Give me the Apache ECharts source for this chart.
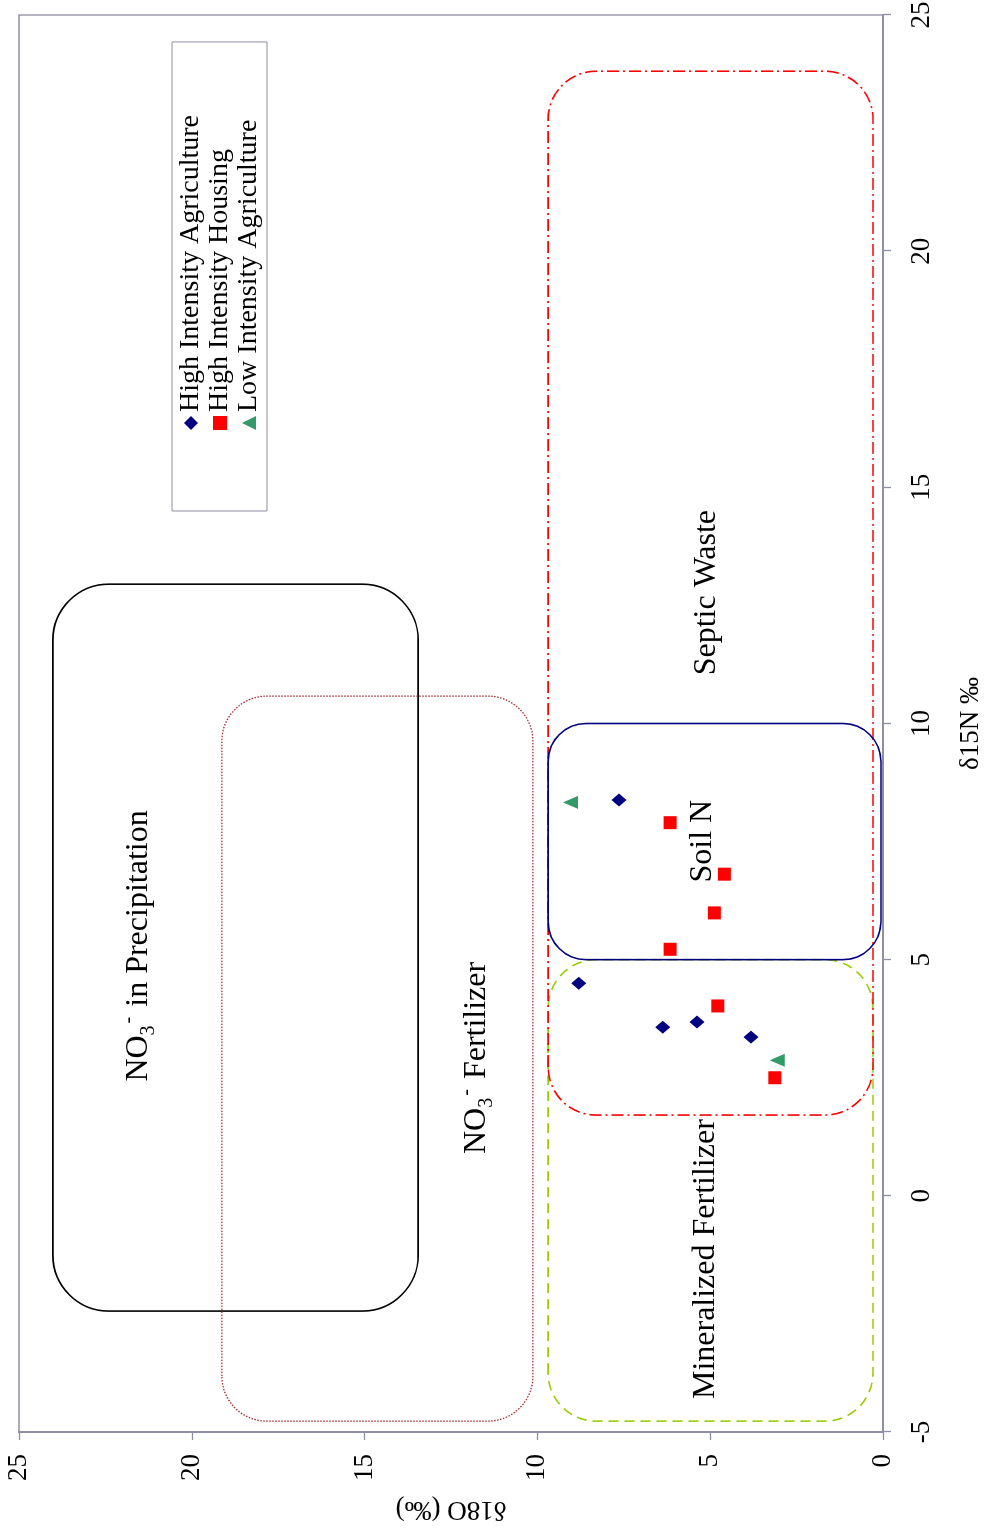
<!DOCTYPE html>
<html>
<head>
<meta charset="utf-8">
<title>Nitrate isotope sources</title>
<script src="https://cdn.jsdelivr.net/npm/echarts@6/dist/echarts.min.js"></script>
<style>
  html, body { margin: 0; padding: 0; background: #ffffff; overflow: hidden; width: 988px; height: 1533px; }
  /* landscape chart turned a quarter turn counter-clockwise to fill the portrait page */
  #chart {
    position: absolute; left: 0; top: 0;
    width: 1533px; height: 988px;
    transform-origin: 0 0;
    transform: translate(0, 1533px) rotate(-90deg);
  }
</style>
</head>
<body>
<div id="chart"></div>
<script>
// ---- sample groups: delta 15N (x) and delta 18O (y), per mil ----
const seriesNames = ['High Intensity Agriculture', 'High Intensity Housing', 'Low Intensity Agriculture'];

const highAgriN15 = [8.38, 4.50, 3.57, 3.68, 3.36];
const highAgriO18 = [7.64, 8.80, 6.37, 5.38, 3.82];

const housingN15 = [7.90, 6.81, 5.99, 5.22, 4.02, 2.50];
const housingO18 = [6.16, 4.59, 4.88, 6.16, 4.78, 3.13];

const lowAgriN15 = [8.33, 2.87];
const lowAgriO18 = [9.04, 3.06];

// ---- source fields (ranges in per mil) ----
const regionKeys   = ['precipitation', 'fertilizer', 'mineralized', 'septic', 'soil'];
const regionN15Min = [-2.44, -4.77, -4.77, 1.71, 5.0];
const regionN15Max = [12.95, 10.58, 5.0, 23.81, 10.0];
const regionO18Min = [13.45, 10.13, 0.29, 0.29, 0.06];
const regionO18Max = [24.02, 19.13, 9.69, 9.69, 9.69];

// ---- source field captions ----
const captionTexts = [
  'NO{sub|3}{sup|-} in Precipitation',
  'NO{sub|3}{sup|-} Fertilizer',
  'Septic Waste',
  'Soil N',
  'Mineralized Fertilizer'
];
const captionN15 = [5.29, 2.92, 12.77, 7.51, -1.34];
const captionO18 = [21.53, 11.75, 5.11, 5.22, 5.12];

// ---- axis ticks ----
const n15Ticks = [-5, 0, 5, 10, 15, 20, 25];
const o18Ticks = [0, 5, 10, 15, 20, 25];

// outline styles for each source field, in regionKeys order
const regionStyle = {
  precipitation: { stroke: '#000000', dash: null,          width: 1.6, r: 56 },
  fertilizer:    { stroke: '#a3282a', dash: [1.5, 1.5],    width: 1.3, r: 45 },
  mineralized:   { stroke: '#99cc00', dash: [10, 6],       width: 1.6, r: 48 },
  septic:        { stroke: '#ff0000', dash: [12, 4, 2, 4], width: 1.6, r: 48 },
  soil:          { stroke: '#000080', dash: null,          width: 1.6, r: 38 }
};

const FONT = '"Liberation Serif", "Times New Roman", serif';
const AXIS_COLOR = '#8e8ea6';

const zip = (xs, ys) => xs.map((x, i) => [x, ys[i]]);

const regionData = regionKeys.map((k, i) => [regionN15Min[i], regionN15Max[i], regionO18Min[i], regionO18Max[i]]);
const captionData = captionTexts.map((t, i) => [captionN15[i], captionO18[i]]);

const chart = echarts.init(document.getElementById('chart'), null, { renderer: 'canvas' });

const option = {
  backgroundColor: '#ffffff',
  animation: false,
  textStyle: { fontFamily: FONT, color: '#000000' },
  grid: {
    left: 101, right: 15, top: 19, bottom: 105,
    show: true, borderColor: AXIS_COLOR, borderWidth: 1.3,
    containLabel: false, outerBoundsMode: 'none'
  },
  legend: {
    orient: 'vertical',
    left: 1022, top: 172,
    padding: [5, 73, 4, 81],
    itemGap: 1,
    itemWidth: 14, itemHeight: 14,
    borderColor: AXIS_COLOR, borderWidth: 1,
    backgroundColor: '#ffffff',
    textStyle: { fontFamily: FONT, fontSize: 28, color: '#000000', padding: [0, 0, 0, -1] },
    data: [
      { name: seriesNames[0], icon: 'diamond' },
      { name: seriesNames[1], icon: 'rect' },
      { name: seriesNames[2], icon: 'triangle' }
    ]
  },
  xAxis: {
    type: 'value',
    min: n15Ticks[0], max: n15Ticks[n15Ticks.length - 1], interval: 5,
    name: 'δ15N ‰',
    nameLocation: 'middle', nameGap: 74,
    nameTextStyle: { fontFamily: FONT, fontSize: 27, color: '#000000' },
    axisLine: { show: true, onZero: false, lineStyle: { color: AXIS_COLOR, width: 2 } },
    axisTick: { show: true, inside: false, length: 8, lineStyle: { color: AXIS_COLOR, width: 1.3 } },
    axisLabel: { margin: 25, fontFamily: FONT, fontSize: 27, color: '#000000' },
    splitLine: { show: false }
  },
  yAxis: {
    type: 'value',
    min: o18Ticks[0], max: o18Ticks[o18Ticks.length - 1], interval: 5,
    name: 'δ18O (‰)',
    nameLocation: 'middle', nameGap: 64,
    nameTextStyle: { fontFamily: FONT, fontSize: 27, color: '#000000' },
    axisLine: { show: true, onZero: false, lineStyle: { color: AXIS_COLOR, width: 2 } },
    axisTick: { show: true, inside: false, length: 8, lineStyle: { color: AXIS_COLOR, width: 1.3 } },
    axisLabel: { margin: 22, fontFamily: FONT, fontSize: 27, color: '#000000' },
    splitLine: { show: false }
  },
  series: [
    {
      // rounded outlines of the nitrate source fields
      type: 'custom',
      name: 'source fields',
      silent: true,
      clip: false,
      z: 1,
      data: regionData,
      encode: { x: [0, 1], y: [2, 3] },
      renderItem: function (params, api) {
        const st = regionStyle[regionKeys[params.dataIndex]];
        const a = api.coord([api.value(0), api.value(3)]);
        const b = api.coord([api.value(1), api.value(2)]);
        return {
          type: 'rect',
          shape: { x: a[0], y: a[1], width: b[0] - a[0], height: b[1] - a[1], r: st.r },
          style: { fill: 'none', stroke: st.stroke, lineWidth: st.width, lineDash: st.dash }
        };
      }
    },
    {
      // captions naming each field
      type: 'custom',
      name: 'field captions',
      silent: true,
      clip: false,
      z: 2,
      data: captionData,
      encode: { x: 0, y: 1 },
      renderItem: function (params, api) {
        const p = api.coord([api.value(0), api.value(1)]);
        return {
          type: 'text',
          x: p[0], y: p[1],
          style: {
            text: captionTexts[params.dataIndex],
            fontFamily: FONT, fontSize: 32, fill: '#000000',
            align: 'center', verticalAlign: 'middle',
            lineHeight: 40,
            rich: {
              sub: { fontFamily: FONT, fontSize: 20, fill: '#000000', verticalAlign: 'bottom', lineHeight: 20 },
              sup: { fontFamily: FONT, fontSize: 20, fill: '#000000', verticalAlign: 'top', lineHeight: 20, padding: [0, 2, 0, 2] }
            }
          }
        };
      }
    },
    {
      type: 'scatter',
      name: seriesNames[0],
      symbol: 'diamond',
      symbolSize: [13, 15],
      z: 3,
      itemStyle: { color: '#000080', opacity: 1 },
      data: zip(highAgriN15, highAgriO18)
    },
    {
      type: 'scatter',
      name: seriesNames[1],
      symbol: 'rect',
      symbolSize: [13, 13],
      z: 3,
      itemStyle: { color: '#ff0000', opacity: 1 },
      data: zip(housingN15, housingO18)
    },
    {
      type: 'scatter',
      name: seriesNames[2],
      symbol: 'triangle',
      symbolSize: [13, 15],
      z: 3,
      itemStyle: { color: '#339966', opacity: 1 },
      data: zip(lowAgriN15, lowAgriO18)
    }
  ]
};

chart.setOption(option);
</script>
</body>
</html>
